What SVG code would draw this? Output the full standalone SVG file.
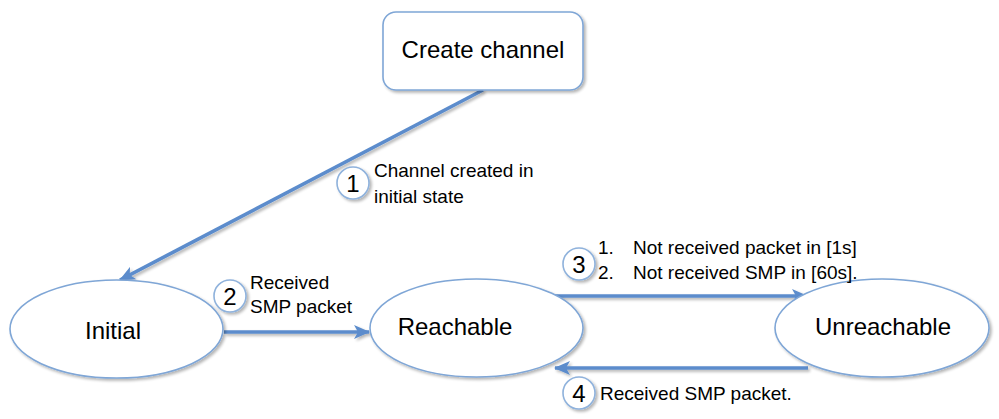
<svg xmlns="http://www.w3.org/2000/svg" width="999" height="419" viewBox="0 0 999 419">
<defs>
<filter id="sh" x="-20%" y="-20%" width="140%" height="140%">
<feGaussianBlur in="SourceAlpha" stdDeviation="1.5"/>
<feOffset dx="1.5" dy="2" result="b"/>
<feComponentTransfer><feFuncA type="linear" slope="0.3"/></feComponentTransfer>
<feMerge><feMergeNode/><feMergeNode in="SourceGraphic"/></feMerge>
</filter>
<marker id="ah" viewBox="0 0 16 14" refX="15" refY="7" markerWidth="16" markerHeight="14" markerUnits="userSpaceOnUse" orient="auto">
<path d="M0,0 L16,7 L0,14 L4,7 z" fill="#5b8ccc"/>
</marker>
</defs>
<style>
.node{fill:#fff;stroke:#7fa6d6;stroke-width:1.6}
.badge{fill:#fff;stroke:#8fb2dc;stroke-width:1.6}
.conn{stroke:#5b8ccc;stroke-width:3.6;fill:none;marker-end:url(#ah)}
.nl{font-family:"Liberation Sans",Arial,sans-serif;font-size:24px;fill:#000;text-anchor:middle}
.lb{font-family:"Liberation Sans",Arial,sans-serif;font-size:19px;fill:#000}
.num{font-family:"Liberation Sans",Arial,sans-serif;font-size:24px;fill:#000;text-anchor:middle}
</style>
<rect width="999" height="419" fill="#fff"/>
<g id="connectors" filter="url(#sh)">
<line class="conn" x1="483" y1="90" x2="120" y2="280"/>
<line class="conn" x1="224" y1="332" x2="369" y2="332"/>
<line class="conn" x1="555" y1="296" x2="807" y2="296"/>
<line class="conn" x1="808" y1="368" x2="555" y2="368"/>
</g>
<g id="create-channel">
<rect class="node" x="383" y="12" width="200" height="78" rx="13" filter="url(#sh)"/>
<text class="nl" x="483" y="58" font-size="25">Create channel</text>
</g>
<g id="initial">
<ellipse class="node" cx="116.5" cy="329" rx="106.5" ry="49" filter="url(#sh)"/>
<text class="nl" x="113" y="339">Initial</text>
</g>
<g id="reachable">
<ellipse class="node" cx="476.5" cy="328" rx="106.5" ry="49" filter="url(#sh)"/>
<text class="nl" x="455" y="335">Reachable</text>
</g>
<g id="unreachable">
<ellipse class="node" cx="882" cy="328" rx="107" ry="49" filter="url(#sh)"/>
<text class="nl" x="883" y="335">Unreachable</text>
</g>
<g id="label1">
<circle class="badge" cx="353" cy="183" r="16" filter="url(#sh)"/>
<text class="num" x="353" y="191.5">1</text>
<text class="lb" x="374" y="177">Channel created in</text>
<text class="lb" x="374" y="203">initial state</text>
</g>
<g id="label2">
<circle class="badge" cx="230" cy="296" r="16" filter="url(#sh)"/>
<text class="num" x="230" y="304.5">2</text>
<text class="lb" x="250" y="289">Received</text>
<text class="lb" x="250" y="313">SMP packet</text>
</g>
<g id="label3">
<circle class="badge" cx="579" cy="264" r="16" filter="url(#sh)"/>
<text class="num" x="579" y="272.5">3</text>
<text class="lb" x="598" y="254">1.</text>
<text class="lb" x="633" y="254">Not received packet in [1s]</text>
<text class="lb" x="598" y="279">2.</text>
<text class="lb" x="633" y="279">Not received SMP in [60s].</text>
</g>
<g id="label4">
<circle class="badge" cx="579" cy="393" r="16" filter="url(#sh)"/>
<text class="num" x="579" y="401.5">4</text>
<text class="lb" x="600" y="400">Received SMP packet.</text>
</g>
</svg>
